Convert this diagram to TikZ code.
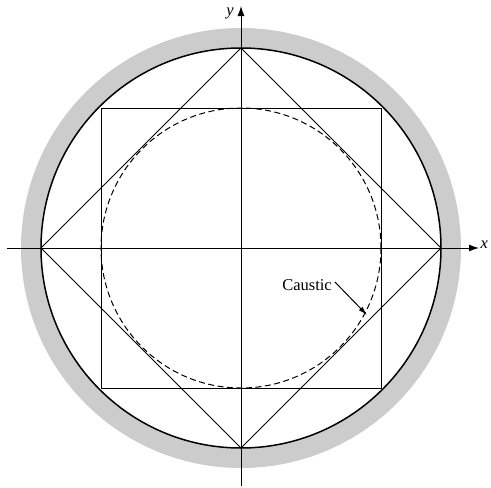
\documentclass[tikz,border=0pt]{standalone}
\usepackage{fontspec}
\setmainfont{Liberation Serif}
\usetikzlibrary{arrows.meta}
\definecolor{ringgray}{gray}{0.8}
\begin{document}
\begin{tikzpicture}[x=1pt,y=-1pt,
  thinline/.style={line width=1pt,black},
  axisline/.style={line width=1pt,black,-{Latex[length=10pt,width=7pt]}},
  causticline/.style={line width=1pt,dash pattern=on 6pt off 3.5pt},
  lbl/.style={font=\fontsize{16.5}{19}\selectfont}]
\useasboundingbox (0,0) rectangle (491,488);
\coordinate (O) at (241,248);
% gray ring
\fill[ringgray,even odd rule] (O) circle (220) (O) circle (200);
\draw[line width=1.5pt] (O) circle (200);
% square
\draw[thinline] (101,108) rectangle (381,388);
% diamond
\coordinate (T) at (241,48);
\coordinate (R) at (441,248);
\coordinate (B) at (241,448);
\coordinate (L) at (41,248);
\draw[thinline] (T) -- (R) -- (B) -- (L) -- cycle;
% caustic
\draw[causticline] (O) circle (140);
% axes
\coordinate (xs) at (7,248);
\coordinate (xe) at (479,248);
\coordinate (ys) at (241,486);
\coordinate (ye) at (241,6);
\draw[axisline] (xs) -- (xe);
\draw[axisline] (ys) -- (ye);
\node[lbl,anchor=west,inner sep=0.5pt] (xl) at (480,245) {\itshape x};
\node[lbl,inner sep=1pt] (yl) at (230,13) {\itshape y};
% label
\node[lbl,inner sep=1pt] (cl) at (307,285) {Caustic};
\coordinate (ct) at (367,315);
\draw[thinline,-{Latex[length=9pt,width=5pt]}] (cl.east) ++(2pt,3pt) -- (ct);
\end{tikzpicture}
\end{document}
